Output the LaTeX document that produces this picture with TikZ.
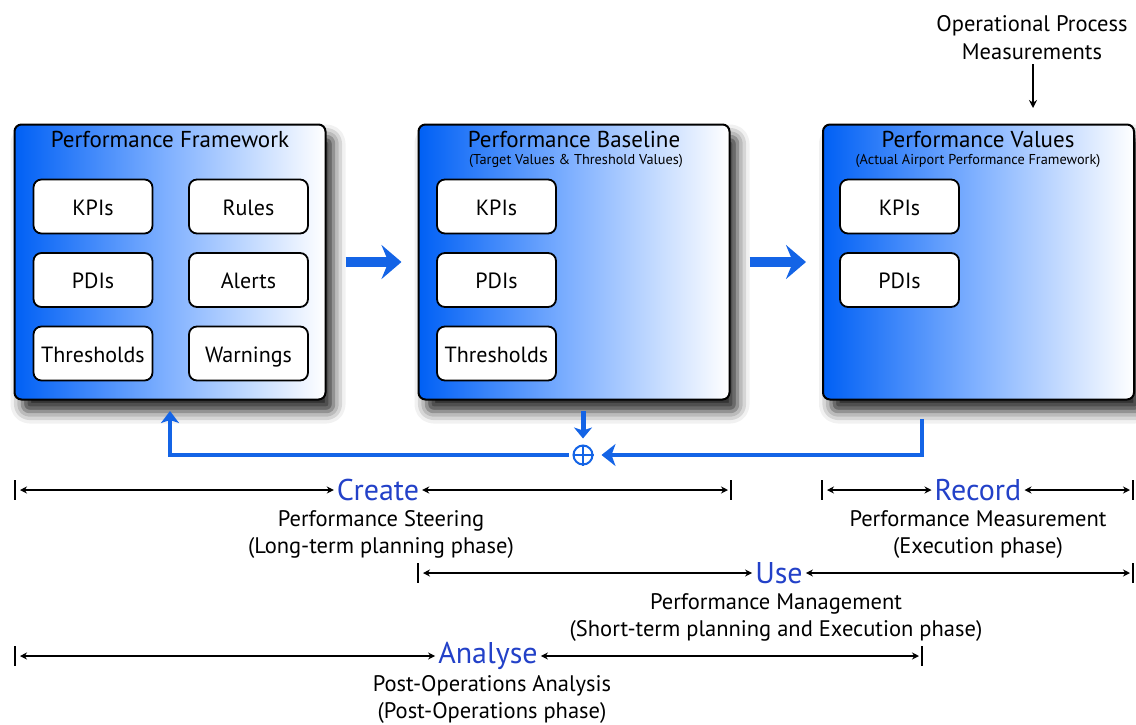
\documentclass[tikz,border=0pt]{standalone}
\usepackage{fontspec}
\setmainfont{PT Sans}
\usetikzlibrary{arrows.meta,shadows.blur}
\definecolor{flowblue}{RGB}{20,100,230}
\definecolor{boxblue}{RGB}{0,96,245}
\definecolor{midblue}{RGB}{130,178,255}
\definecolor{phaseblue}{RGB}{35,65,200}
\begin{document}
\begin{tikzpicture}[x=1pt,y=-1pt,
  panel/.style={draw=black, line width=2pt, rounded corners=7pt,
    minimum width=311pt, minimum height=275pt, inner sep=0pt,
    left color=boxblue, right color=white, middle color=midblue,
    blur shadow={shadow xshift=8pt, shadow yshift=-12pt, shadow blur radius=12pt, shadow opacity=85}},
  title/.style={font=\fontsize{23}{26}\selectfont, inner sep=0pt},
  subtitle/.style={font=\fontsize{14.3}{16}\selectfont, inner sep=0pt},
  item/.style={draw=black, fill=white, line width=1.8pt, rounded corners=8pt,
    minimum width=119pt, minimum height=54pt, inner sep=0pt,
    text height=17pt, text depth=0pt,
    font=\fontsize{22}{25}\selectfont},
  blockarrow/.style={draw=flowblue, line width=10pt,
    -{Stealth[length=20pt,width=34pt,inset=7pt]}},
  flow/.style={draw=flowblue, line width=4pt},
  phase/.style={font=\fontsize{30}{33}\selectfont, text=phaseblue, inner sep=3pt},
  note/.style={font=\fontsize{22.5}{27}\selectfont, align=center, inner sep=0pt},
  span/.style={draw=black, line width=1.6pt, {Stealth[length=7pt,width=7pt]}-{Stealth[length=7pt,width=7pt]}},
  tick/.style={draw=black, line width=2pt}]
\useasboundingbox (0,0) rectangle (1136,724);

% --- three panels ---------------------------------------------------------
\node[panel] (fw) at (170,262) {};
\node[panel] (bl) at (574,262) {};
\node[panel] (pv) at (978.5,262) {};

\node[title] (fwt) at (170,139) {Performance Framework};
\node[title] (blt) at (574,139) {Performance Baseline};
\node[subtitle] (bls) at (576,160.5) {(Target Values \& Threshold Values)};
\node[title] (pvt) at (978,139) {Performance Values};
\node[subtitle] (pvs) at (978,160.5) {(Actual Airport Performance Framework)};

% framework items
\node[item] (fwk) at (93,206.5) {KPIs};
\node[item] (fwp) at (93,280) {PDIs};
\node[item] (fwth) at (93,353.5) {Thresholds};
\node[item] (fwr) at (248.5,206.5) {Rules};
\node[item] (fwa) at (248.5,280) {Alerts};
\node[item] (fww) at (248.5,353.5) {Warnings};

% baseline items
\node[item] (blk) at (496.5,206.5) {KPIs};
\node[item] (blp) at (496.5,280) {PDIs};
\node[item] (blth) at (496.5,353.5) {Thresholds};

% values items
\node[item] (pvk) at (899.5,206.5) {KPIs};
\node[item] (pvp) at (899.5,280) {PDIs};

% --- transitions between panels -----------------------------------------
\draw[blockarrow] ([xshift=19pt]fw.east) -- ([xshift=-16pt]bl.west);
\draw[blockarrow] ([xshift=19pt]bl.east) -- ([xshift=-16pt]pv.west);

% --- measurements input --------------------------------------------------
\node[note, font=\fontsize{22.5}{28}\selectfont] (opm) at (1032,38) {Operational Process\\Measurements};
\coordinate (opmIn) at (1033,108);
\draw[line width=1.6pt, -{Stealth[length=8pt,width=8pt]}] (opm.south -| opmIn) ++(0,4) -- (opmIn);

% --- feedback loop -------------------------------------------------------
\node[circle, draw=flowblue, line width=2pt, minimum size=19pt, inner sep=0pt] (sum) at (583,455) {};
\draw[flowblue, line width=1.8pt] (sum.north) -- (sum.south) (sum.west) -- (sum.east);

\coordinate (blOut) at (583,411);
\draw[flow, line width=5pt, -{Stealth[length=11pt,width=18pt,inset=3pt]}] (blOut) -- ([yshift=6pt]sum.north);

\coordinate (pvOut) at (922,419);
\draw[flow, -{Stealth[length=14pt,width=22pt,inset=4pt]}] (pvOut) |- ([xshift=8pt]sum.east);

\coordinate (fwIn) at (170,411);
\draw[flow, -{Stealth[length=12pt,width=18pt,inset=3pt]}] ([xshift=-4pt]sum.west) -| (fwIn);

% --- phase spans ---------------------------------------------------------
% Create
\node[phase] (create) at (378,490) {Create};
\coordinate (c0) at (15,490);
\coordinate (c1) at (731,490);
\draw[tick] (c0) ++(0,-10) -- ++(0,20);
\draw[tick] (c1) ++(0,-10) -- ++(0,20);
\draw[span] ([xshift=5pt]c0) -- (create.west);
\draw[span] (create.east) -- ([xshift=-3pt]c1);
\node[note] (createTxt) at (381,534) {Performance Steering\\(Long-term planning phase)};

% Record
\node[phase] (record) at (978,490) {Record};
\coordinate (r0) at (822,490);
\coordinate (r1) at (1133,490);
\draw[tick] (r0) ++(0,-10) -- ++(0,20);
\draw[tick] (r1) ++(0,-10) -- ++(0,20);
\draw[span] ([xshift=5pt]r0) -- (record.west);
\draw[span] (record.east) -- ([xshift=-3pt]r1);
\node[note] (recordTxt) at (978,534) {Performance Measurement\\(Execution phase)};

% Use
\node[phase] (use) at (779,573) {Use};
\coordinate (u0) at (418,573);
\coordinate (u1) at (1133,573);
\draw[tick] (u0) ++(0,-10) -- ++(0,20);
\draw[tick] (u1) ++(0,-10) -- ++(0,20);
\draw[span] ([xshift=5pt]u0) -- (use.west);
\draw[span] (use.east) -- ([xshift=-3pt]u1);
\node[note] (useTxt) at (776,617) {Performance Management\\(Short-term planning and Execution phase)};

% Analyse
\node[phase] (analyse) at (488,656) {Analyse};
\coordinate (a0) at (15,656);
\coordinate (a1) at (922,656);
\draw[tick] (a0) ++(0,-10) -- ++(0,20);
\draw[tick] (a1) ++(0,-10) -- ++(0,20);
\draw[span] ([xshift=5pt]a0) -- (analyse.west);
\draw[span] (analyse.east) -- ([xshift=-3pt]a1);
\node[note] (analyseTxt) at (492,699) {Post-Operations Analysis\\(Post-Operations phase)};
\end{tikzpicture}
\end{document}
